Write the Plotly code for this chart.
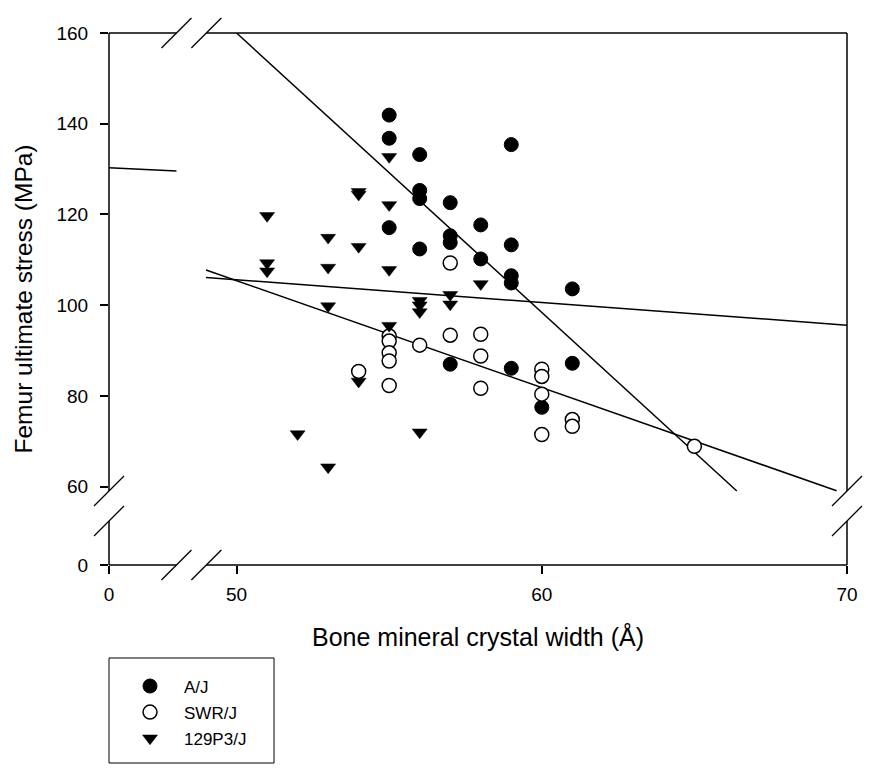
import plotly.graph_objects as go

# ---------------- data ----------------
AJ_X = [55, 55, 55, 56, 56, 56, 56, 57, 57, 57, 57, 58, 58, 59, 59, 59, 59, 59, 60, 61, 61]
AJ_Y = [141.9, 136.8, 117.1, 133.2, 125.3, 123.5, 112.4, 122.6, 115.3, 113.8, 87.0,
        117.7, 110.2, 135.4, 113.3, 106.5, 104.9, 86.1, 77.5, 103.6, 87.2]

SWR_X = [54, 55, 55, 55, 55, 55, 56, 57, 57, 58, 58, 58, 60, 60, 60, 60, 61, 61, 65]
SWR_Y = [85.4, 93.2, 92.1, 89.5, 87.7, 82.3, 91.2, 109.3, 93.4, 93.6, 88.8, 81.7,
         85.9, 84.3, 80.4, 71.5, 74.8, 73.3, 68.9]

P129_X = [51, 51, 51, 52, 53, 53, 53, 53, 54, 54, 54, 54, 55, 55, 55, 55, 56, 56, 56, 56, 57, 57, 58]
P129_Y = [119.7, 109.3, 107.5, 71.6, 114.9, 108.3, 99.8, 64.3, 125.0, 124.4, 112.9, 83.2,
          132.7, 122.1, 107.8, 95.5, 101.0, 100.0, 98.5, 72.0, 102.3, 100.2, 104.7]

# regression lines (end points)
FIT_AJ_X = [50.0, 66.39]
FIT_AJ_Y = [160.0, 59.05]
FIT_ALL_X = [49.0, 70.0]
FIT_ALL_Y = [106.1, 95.6]
FIT_SWR_X = [49.0, 69.66]
FIT_SWR_Y = [107.76, 59.1]
FIT_STUB_X = [45.82, 48.03]
FIT_STUB_Y = [130.3, 129.6]

SERIES_NAMES = ["A/J", "SWR/J", "129P3/J"]

# broken axes: the "0" tick sits at the start of each axis
X_MIN, X_MAX = 45.82, 70.0
Y_MIN, Y_MAX = 42.74, 160.0
X_TICK_VALS = [X_MIN, 50, 60, 70]
X_TICK_TEXT = ["0", "50", "60", "70"]
Y_TICK_VALS = [Y_MIN, 60, 80, 100, 120, 140, 160]
Y_TICK_TEXT = ["0", "60", "80", "100", "120", "140", "160"]
X_BREAK = (48.03, 49.01)
Y_BREAK = (52.44, 59.05)

FONT = "Liberation Sans, Arial, Helvetica, sans-serif"

fig = go.Figure()

line_style = dict(color="black", width=1.5)
for xs, ys in [(FIT_AJ_X, FIT_AJ_Y), (FIT_ALL_X, FIT_ALL_Y), (FIT_SWR_X, FIT_SWR_Y), (FIT_STUB_X, FIT_STUB_Y)]:
    fig.add_trace(go.Scatter(x=xs, y=ys, mode="lines", line=line_style,
                             showlegend=False, hoverinfo="skip"))

fig.add_trace(go.Scatter(x=AJ_X, y=AJ_Y, mode="markers", name=SERIES_NAMES[0], legendgroup="a",
                         marker=dict(symbol="circle", size=14, color="black",
                                     line=dict(color="black", width=1))))
fig.add_trace(go.Scatter(x=SWR_X, y=SWR_Y, mode="markers", name=SERIES_NAMES[1], legendgroup="b",
                         marker=dict(symbol="circle", size=14, color="white",
                                     line=dict(color="black", width=1.5))))
fig.add_trace(go.Scatter(x=P129_X, y=P129_Y, mode="markers", name=SERIES_NAMES[2], legendgroup="c",
                         marker=dict(symbol="triangle-down", size=13, color="black",
                                     line=dict(color="black", width=0.5))))


def fx(v):
    return (v - X_MIN) / (X_MAX - X_MIN)


def fy(v):
    return (v - Y_MIN) / (Y_MAX - Y_MIN)


shapes = []
spine = dict(color="black", width=1.5)


def seg(x0, y0, x1, y1):
    shapes.append(dict(type="line", xref="x domain", yref="y domain",
                       x0=x0, y0=y0, x1=x1, y1=y1, line=spine, layer="above"))


for yy in (0, 1):
    seg(0, yy, fx(X_BREAK[0]), yy)
    seg(fx(X_BREAK[1]), yy, 1, yy)
for xx in (0, 1):
    seg(xx, 0, xx, fy(Y_BREAK[0]))
    seg(xx, fy(Y_BREAK[1]), xx, 1)


def slash(xa, ya):
    shapes.append(dict(type="line", xref="x domain", yref="y domain",
                       xsizemode="pixel", ysizemode="pixel", xanchor=xa, yanchor=ya,
                       x0=-15, x1=15, y0=-15, y1=15,
                       line=dict(color="black", width=1.3), layer="above"))


for yy in (0, 1):
    slash(fx(X_BREAK[0]), yy)
    slash(fx(X_BREAK[1]), yy)
for xx in (0, 1):
    slash(xx, fy(Y_BREAK[0]))
    slash(xx, fy(Y_BREAK[1]))

# legend box
shapes.append(dict(type="rect", xref="paper", yref="paper",
                   x0=0, x1=0.2236, y0=-0.3722, y1=-0.1748,
                   line=dict(color="black", width=1)))

fig.update_layout(
    width=876, height=771,
    margin=dict(l=101, r=37, t=25, b=214),
    plot_bgcolor="white", paper_bgcolor="white",
    font=dict(family=FONT, color="black", size=19),
    shapes=shapes,
    showlegend=True,
    legend=dict(x=0.0095, y=-0.1945, xanchor="left", yanchor="top",
                font=dict(size=17, family=FONT, color="black"),
                bgcolor="rgba(0,0,0,0)", borderwidth=0, tracegroupgap=1, itemwidth=58),
    xaxis=dict(range=[X_MIN, X_MAX], tickvals=X_TICK_VALS, ticktext=X_TICK_TEXT,
               showgrid=False, zeroline=False, showline=False,
               ticks="outside", ticklen=8, tickwidth=1.5, tickcolor="black",
               tickfont=dict(size=19), ticklabelstandoff=4,
               title=dict(text="Bone mineral crystal width (Å)", font=dict(size=25), standoff=24)),
    yaxis=dict(range=[Y_MIN, Y_MAX], tickvals=Y_TICK_VALS, ticktext=Y_TICK_TEXT,
               showgrid=False, zeroline=False, showline=False,
               ticks="outside", ticklen=8, tickwidth=1.5, tickcolor="black",
               tickfont=dict(size=19), ticklabelstandoff=8,
               title=dict(text="Femur ultimate stress (MPa)", font=dict(size=24.5), standoff=16)),
)

fig.write_html("out.html")
